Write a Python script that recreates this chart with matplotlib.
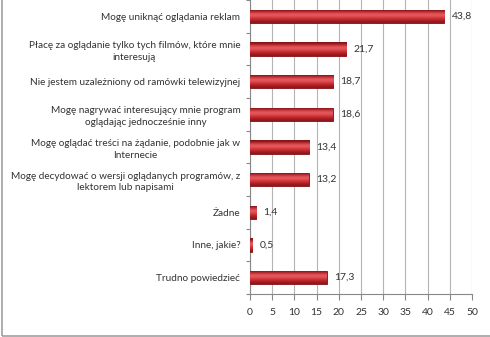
import numpy as np
import matplotlib.pyplot as plt
from matplotlib.patches import Rectangle
from matplotlib.colors import LinearSegmentedColormap

plt.rcParams['font.family'] = ['Lato', 'DejaVu Sans']

# dane
kategorie = [
    'Mogę uniknąć oglądania reklam',
    'Płacę za oglądanie tylko tych filmów, które mnie\ninteresują',
    'Nie jestem uzależniony od ramówki telewizyjnej',
    'Mogę nagrywać interesujący mnie program\noglądając jednocześnie inny',
    'Mogę oglądać treści na żądanie, podobnie jak w\nInternecie',
    'Mogę decydować o wersji oglądanych programów, z\nlektorem lub napisami',
    'Żadne',
    'Inne, jakie?',
    'Trudno powiedzieć',
]
wartosci = [43.8, 21.7, 18.7, 18.6, 13.4, 13.2, 1.4, 0.5, 17.3]
ticki_x = [0, 5, 10, 15, 20, 25, 30, 35, 40, 45, 50]

fig = plt.figure(figsize=(4.9, 3.37), dpi=100)
ax = fig.add_axes([0.5102, 0.1276, 0.4531, 0.8724])

y = np.arange(len(kategorie))
bars = ax.barh(y, wartosci, height=0.4, color='#C9262C', edgecolor='#7A1014', linewidth=0.6, zorder=3)

# gradient "3D" na słupkach
grad = np.array([0.0, 0.6, 0.9, 0.65, 0.4, 0.1]).reshape(-1, 1)
cmap = LinearSegmentedColormap.from_list('r', ['#7E1216', '#D02A30', '#EC7476'])
for b in bars:
    x0, y0 = b.get_x(), b.get_y()
    w, h = b.get_width(), b.get_height()
    im = ax.imshow(grad, cmap=cmap, vmin=0, vmax=1, aspect='auto',
                   extent=[x0, x0 + w, y0 + h, y0], zorder=3.5, interpolation='bicubic')
    im.set_clip_path(b)

for yi, v in zip(y, wartosci):
    ax.text(v + 1.6, yi, f'{v:.1f}'.replace('.', ','), va='center', ha='left',
            fontsize=7.5, color='#333333', zorder=5)

ax.set_xlim(0, 50)
ax.set_ylim(len(kategorie) - 0.5, -0.5)
ax.set_xticks(ticki_x)
ax.set_xticklabels([str(t) for t in ticki_x], fontsize=7.5, color='#333333')
ax.set_yticks(y)
ax.set_yticklabels(kategorie, fontsize=7.2, color='#333333', multialignment='center',
                   linespacing=1.4)
ax.set_yticks(np.arange(len(kategorie) + 1) - 0.5, minor=True)
ax.tick_params(axis='y', which='major', length=0, pad=7)
ax.tick_params(axis='y', which='minor', length=3, color='#888888', width=0.8)
ax.tick_params(axis='x', length=4, color='#888888', width=0.8, pad=6)

ax.grid(axis='x', color='#B4B4B4', linewidth=0.8, zorder=0)
ax.set_axisbelow(True)
for s in ['top', 'right']:
    ax.spines[s].set_visible(False)
for s in ['left', 'bottom']:
    ax.spines[s].set_color('#888888')
    ax.spines[s].set_linewidth(0.8)

# ramka wykresu
fig.patches.append(Rectangle((0.004, 0.003), 1.2, 1.2, transform=fig.transFigure,
                             fill=False, edgecolor='#A0A0A0', linewidth=1.2))

fig.savefig('out.png', dpi=100)
